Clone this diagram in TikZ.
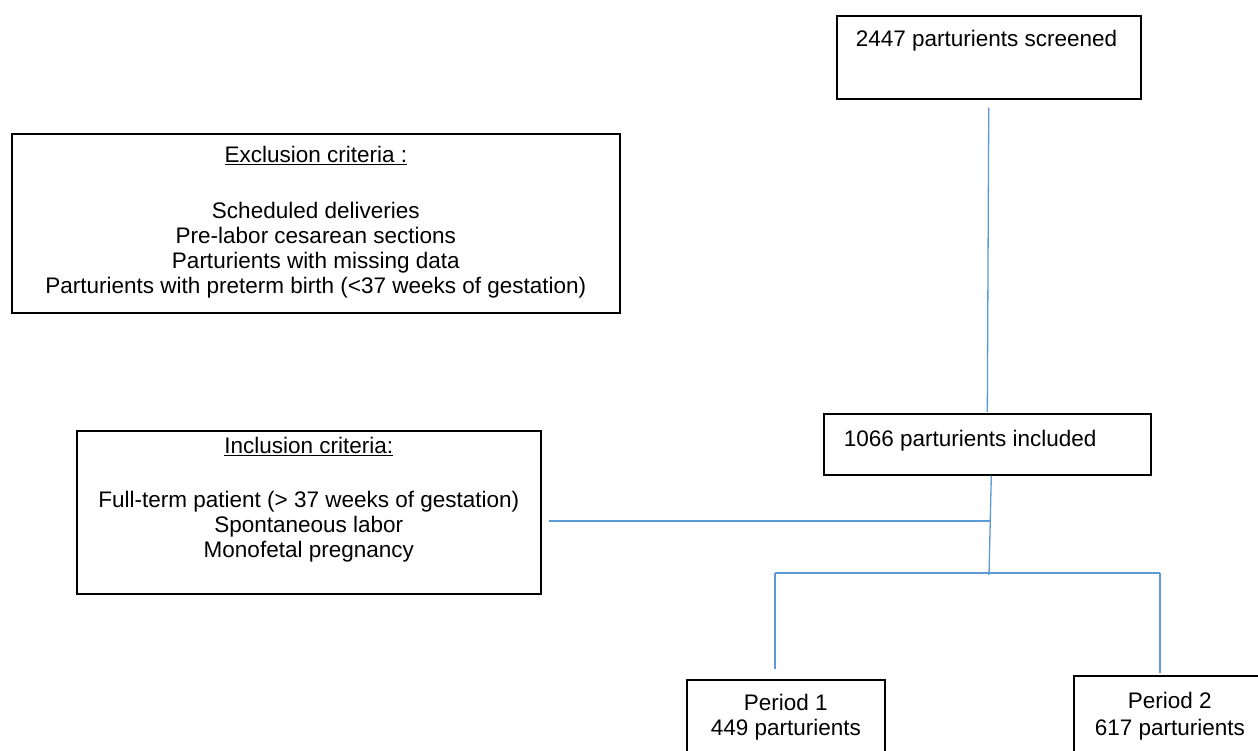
\documentclass[tikz,border=0pt]{standalone}
\usepackage{fontspec}
\setmainfont{Liberation Sans}
\definecolor{linkblue}{HTML}{5B9BD5}
\tikzset{
  box/.style={draw=black, line width=1.6pt, inner sep=0pt, anchor=north west,
    font=\fontsize{22.5}{25}\selectfont},
  conn/.style={draw=linkblue, line width=1.3pt},
}
\begin{document}
\begin{tikzpicture}[x=1pt,y=-1pt]
\useasboundingbox (0,0) rectangle (1258,750);
\clip (0,0) rectangle (1258,750);
\fill[white] (0,0) rectangle (1258,750);

\node[box] (top) at (836,15) {\parbox[c][83pt][t]{304pt}{\noindent\hspace*{19pt}\rule{0pt}{31pt}2447 parturients screened}};

\node[box] (excl) at (11,133) {\parbox[c][179pt][t]{608pt}{\centering\rule{0pt}{29pt}\underline{Exclusion criteria :}\\[31pt]
Scheduled deliveries\\
Pre-labor cesarean sections\\
Parturients with missing data\\
Parturients with preterm birth (<37 weeks of gestation)}};

\node[box] (incl) at (76,430) {\parbox[c][163pt][t]{464pt}{\centering\rule{0pt}{23pt}\underline{Inclusion criteria:}\\[29pt]
Full-term patient (> 37 weeks of gestation)\\
Spontaneous labor\\
Monofetal pregnancy}};

\node[box] (inc) at (823,413) {\parbox[c][61pt][t]{327pt}{\noindent\hspace*{20pt}\rule{0pt}{33pt}1066 parturients included}};

\node[box] (p1) at (686,679) {\parbox[c][85pt][t]{198pt}{\centering\rule{0pt}{31pt}Period 1\\
449 parturients}};

\node[box] (p2) at (1073,675) {\parbox[c][85pt][t]{192pt}{\centering\rule{0pt}{33pt}Period 2\\[2pt]
617 parturients}};

\coordinate (j1) at (991,521);
\coordinate (j2) at (989,575);
\coordinate (bl) at (775,573);
\coordinate (br) at (1160,573);

\draw[conn, shorten <=8pt, shorten >=1pt] (top.south) -- (inc.north);
\draw[conn] ([xshift=4pt]inc.south) -- (j2);
\draw[conn] (incl.east |- j1) ++(7,0) -- (j1);
\draw[conn] (bl) -- (br);
\draw[conn, shorten >=10pt] (bl) -- (bl |- p1.north);
\draw[conn, shorten >=2pt] (br) -- (br |- p2.north);
\end{tikzpicture}
\end{document}
